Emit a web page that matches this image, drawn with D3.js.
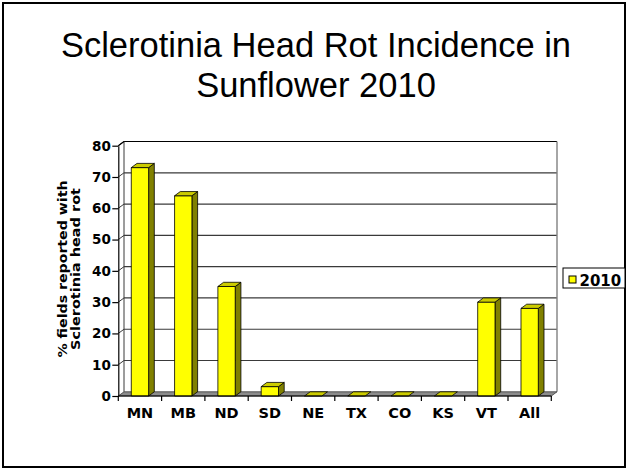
<!DOCTYPE html>
<html>
<head>
<meta charset="utf-8">
<script src="https://cdn.jsdelivr.net/npm/d3@7"></script>
<style>
  html, body { margin: 0; padding: 0; background: #fff; }
  svg { display: block; }
</style>
</head>
<body>
<svg id="chart" width="628" height="471"></svg>
<script>
// Sclerotinia head rot incidence by state/region, 2010
const categories = ["MN", "MB", "ND", "SD", "NE", "TX", "CO", "KS", "VT", "All"];
const values2010 = [73, 64, 35, 3, 0, 0, 0, 0, 30, 28];
const yTicks = [0, 10, 20, 30, 40, 50, 60, 70, 80];
const seriesName = "2010";
const titleLines = ["Sclerotinia Head Rot Incidence in", "Sunflower 2010"];
const yLabelLines = ["% fields reported with", "Sclerotinia head rot"];

(function draw() {
  const svg = d3.select("#chart");
  const W = 628, H = 471;

  // slide frame
  svg.append("rect")
    .attr("x", 3).attr("y", 3).attr("width", W - 6).attr("height", H - 7)
    .attr("fill", "none").attr("stroke", "#000").attr("stroke-width", 2);

  // title
  svg.append("g").selectAll("text").data(titleLines).join("text")
    .attr("x", 316).attr("y", (d, i) => 57 + i * 40)
    .attr("text-anchor", "middle")
    .attr("font-family", "Liberation Sans, Arial, sans-serif")
    .attr("font-size", 34.5)
    .attr("fill", "#000")
    .text(d => d);

  // plot geometry (front plane) and depth offset of the 3D box
  const pLeft = 118.3, pRight = 551.3, pBottom = 396, pTop = 145.7;
  const dx = 5.7, dy = -4.2;

  const x = d3.scaleBand().domain(categories).range([pLeft, pRight])
    .paddingInner(0.6).paddingOuter(0.3);
  const xCat = d3.scaleBand().domain(categories).range([pLeft, pRight]).padding(0);
  const y = d3.scaleLinear().domain([0, 80]).range([pBottom, pTop]);

  const font = "DejaVu Sans, Verdana, sans-serif";

  // back wall
  const g = svg.append("g");
  g.append("rect")
    .attr("x", pLeft + dx).attr("y", pTop + dy)
    .attr("width", pRight - pLeft).attr("height", pBottom - pTop)
    .attr("fill", "#fff");

  // gridlines on back wall and side wall
  const grid = g.append("g");
  yTicks.filter(v => v > 0).forEach(v => {
    grid.append("line")
      .attr("x1", pLeft + dx).attr("x2", pRight + dx)
      .attr("y1", y(v) + dy).attr("y2", y(v) + dy)
      .attr("stroke", v === 80 ? "#000" : "#3a3a3a").attr("stroke-width", 1.2);
    grid.append("line")
      .attr("x1", pLeft).attr("x2", pLeft + dx)
      .attr("y1", y(v)).attr("y2", y(v) + dy)
      .attr("stroke", "#3a3a3a").attr("stroke-width", 1);
  });
  // back wall right and left edges
  g.append("line")
    .attr("x1", pRight + dx).attr("x2", pRight + dx)
    .attr("y1", pTop + dy).attr("y2", pBottom + dy)
    .attr("stroke", "#808080").attr("stroke-width", 1.4);
  g.append("line")
    .attr("x1", pLeft + dx).attr("x2", pLeft + dx)
    .attr("y1", pTop + dy).attr("y2", pBottom + dy)
    .attr("stroke", "#3a3a3a").attr("stroke-width", 1);

  // floor
  const floorPts = [[pLeft, pBottom], [pRight, pBottom], [pRight + dx, pBottom + dy], [pLeft + dx, pBottom + dy]];
  g.append("polygon")
    .attr("points", floorPts.map(p => p.join(",")).join(" "))
    .attr("fill", "#8c8c8c").attr("stroke", "#3a3a3a").attr("stroke-width", 0.8);

  // bars: front, side and top faces
  const bars = g.append("g").selectAll("g")
    .data(categories.map((c, i) => ({c, v: values2010[i]}))).join("g");
  bars.each(function(d) {
    const b = d3.select(this);
    const x0 = x(d.c), x1 = x(d.c) + x.bandwidth();
    const yt = y(d.v);
    const poly = (pts, fill) => b.append("polygon")
      .attr("points", pts.map(q => q.join(",")).join(" "))
      .attr("fill", fill).attr("stroke", "#000")
      .attr("stroke-width", 0.8).attr("stroke-linejoin", "round");
    if (d.v > 0) {
      poly([[x1, yt], [x1 + dx, yt + dy], [x1 + dx, pBottom + dy], [x1, pBottom]], "#808000");
      poly([[x0, yt], [x1, yt], [x1, pBottom], [x0, pBottom]], "#ffff00");
    }
    poly([[x0, yt], [x1, yt], [x1 + dx, yt + dy], [x0 + dx, yt + dy]], "#cccc00");
  });

  // y axis
  const yAxis = g.append("g")
    .attr("transform", `translate(${pLeft},0)`)
    .call(d3.axisLeft(y).tickValues(yTicks).tickSize(6).tickSizeOuter(0).tickPadding(1.5));
  yAxis.select(".domain").attr("stroke", "#000").attr("stroke-width", 1.2);
  yAxis.selectAll(".tick line").attr("stroke", "#000").attr("stroke-width", 1.2);
  yAxis.selectAll(".tick text")
    .attr("font-family", font).attr("font-weight", "bold").attr("font-size", 13.5).attr("fill", "#000");
  // top-left depth edge
  g.append("line")
    .attr("x1", pLeft).attr("y1", pTop).attr("x2", pLeft + dx).attr("y2", pTop + dy)
    .attr("stroke", "#000").attr("stroke-width", 1.2);

  // x axis: boundary ticks and centred category labels
  const xAxis = g.append("g").attr("transform", `translate(0,${pBottom})`);
  xAxis.append("line").attr("x1", pLeft).attr("x2", pRight).attr("y1", 0).attr("y2", 0)
    .attr("stroke", "#000").attr("stroke-width", 1.2);
  xAxis.selectAll("line.bt").data(categories.map(c => xCat(c)).concat([pRight])).join("line")
    .attr("class", "bt")
    .attr("x1", d => d).attr("x2", d => d).attr("y1", 0).attr("y2", 5)
    .attr("stroke", "#000").attr("stroke-width", 1.2);
  xAxis.append("g").call(d3.axisBottom(xCat).tickSize(0).tickPadding(11.5))
    .call(a => a.select(".domain").remove())
    .call(a => a.selectAll("text").attr("font-family", font).attr("font-weight", "bold")
      .attr("font-size", 14.5).attr("fill", "#000"));

  // y axis title (two rotated lines, stretched along their length)
  svg.append("g").attr("transform", "translate(66.5,269) rotate(-90)")
    .selectAll("text").data(yLabelLines).join("text")
    .attr("x", 0).attr("y", (d, i) => i * 13)
    .attr("text-anchor", "middle")
    .attr("font-family", font).attr("font-weight", "bold").attr("font-size", 12)
    .attr("textLength", (d, i) => i === 0 ? 177 : 162)
    .attr("lengthAdjust", "spacingAndGlyphs")
    .attr("fill", "#000")
    .text(d => d);

  // legend
  const leg = svg.append("g").attr("transform", "translate(563,268)");
  leg.append("rect").attr("width", 62).attr("height", 20)
    .attr("fill", "#fff").attr("stroke", "#000").attr("stroke-width", 1);
  leg.append("rect").attr("x", 6).attr("y", 8).attr("width", 7).attr("height", 7)
    .attr("fill", "#ffff00").attr("stroke", "#000").attr("stroke-width", 1);
  leg.append("text").attr("x", 16.5).attr("y", 17.5)
    .attr("font-family", font).attr("font-weight", "bold").attr("font-size", 15)
    .attr("fill", "#000").text(seriesName);
})();
</script>
</body>
</html>
